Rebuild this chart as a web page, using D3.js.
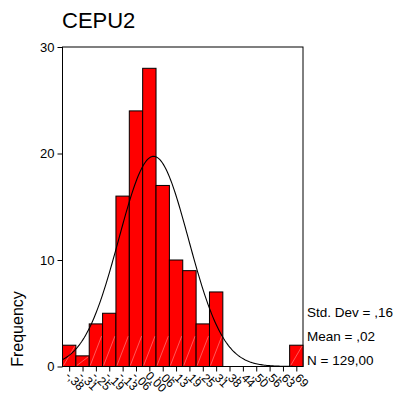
<!DOCTYPE html>
<html><head><meta charset="utf-8">
<script src="https://cdn.jsdelivr.net/npm/d3@7"></script>
<style>body{margin:0;background:#fff}svg{display:block}text{font-family:Arial,"Liberation Sans",sans-serif}</style>
</head><body><svg id="c" width="394" height="398"></svg>
<script>
const binCenters = [-0.375,-0.3125,-0.25,-0.1875,-0.125,-0.0625,0,0.0625,0.125,0.1875,0.25,0.3125,0.375,0.4375,0.5,0.5625,0.625,0.6875];
const binLabels = ["-,38","-,31","-,25","-,19","-,13","-,06","0,00",",06",",13",",19",",25",",31",",38",",44",",50",",56",",63",",69"];
const counts = [2,1,4,5,16,24,28,17,10,9,4,7,0,0,0,0,0,2];
const yTicks = [0,10,20,30];
const statLines = ["Std. Dev = ,16","Mean = ,02","N = 129,00"];
const mean = 0.02, sd = 0.163, N = 129, binW = 0.0625;

const svg = d3.select("#c");
const L = 62.5, R = 303, T = 47, B = 366.5;
const x = d3.scaleLinear().domain([binCenters[0]-binW/2, binCenters[binCenters.length-1]+binW/2]).range([L,R]);
const y = d3.scaleLinear().domain([0,30]).range([B,T]);

svg.append("text").attr("x",62).attr("y",28).attr("font-size",22).text("CEPU2");

// frame
svg.append("rect").attr("x",L).attr("y",T).attr("width",R-L).attr("height",B-T)
  .attr("fill","none").attr("stroke","#000").attr("stroke-width",1);

// bars
const bars = svg.append("g");
counts.forEach((c,i)=>{
  if(!c) return;
  const x0 = x(binCenters[i]-binW/2), x1 = x(binCenters[i]+binW/2);
  bars.append("rect").attr("x",x0).attr("y",y(c)).attr("width",x1-x0).attr("height",y(0)-y(c))
    .attr("fill","#ff0000").attr("stroke","#000").attr("stroke-width",1);
  const h = y(0)-y(c);
  bars.append("line").attr("x1",x0+1).attr("y1",y(0)-1).attr("x2",x1-1).attr("y2",y(0)-1-Math.min(h-2,(x1-x0)*2.2))
    .attr("stroke","#ffb0b0").attr("stroke-width",0.5);
});

// normal curve
const pts = d3.range(0,201).map(k=>{
  const v = x.domain()[0] + (x.domain()[1]-x.domain()[0])*k/200;
  const f = N*binW/(sd*Math.sqrt(2*Math.PI))*Math.exp(-0.5*((v-mean)/sd)**2);
  return [v,f];
});
svg.append("path").attr("d",d3.line().x(d=>x(d[0])).y(d=>y(d[1]))(pts))
  .attr("fill","none").attr("stroke","#000").attr("stroke-width",1.1);

// y axis
const ya = svg.append("g").attr("transform",`translate(${L},0)`)
  .call(d3.axisLeft(y).tickValues(yTicks).tickSize(5).tickPadding(3).tickFormat(d3.format("d")));
ya.select(".domain").remove();
ya.selectAll("line").attr("stroke","#000");
ya.selectAll("text").attr("font-size",13).attr("font-family","Arial, 'Liberation Sans', sans-serif").attr("fill","#000");

// x axis
const xa = svg.append("g").attr("transform",`translate(0,${B})`)
  .call(d3.axisBottom(x).tickValues(binCenters).tickSize(5).tickFormat((d,i)=>binLabels[i]));
xa.select(".domain").remove();
xa.selectAll("line").attr("stroke","#000");
xa.selectAll("text").attr("font-size",12).attr("font-family","Arial, 'Liberation Sans', sans-serif").attr("fill","#000")
  .attr("text-anchor","start").attr("dy",0).attr("y",0)
  .attr("transform","translate(-5,10) rotate(45)");

// y title
svg.append("text").attr("transform","translate(23,329) rotate(-90)").attr("text-anchor","middle")
  .attr("font-size",16).text("Frequency");

// stats
statLines.forEach((s,i)=>{
  svg.append("text").attr("x",307).attr("y",317+i*24).attr("font-size",13.5).text(s);
});
</script></body></html>
